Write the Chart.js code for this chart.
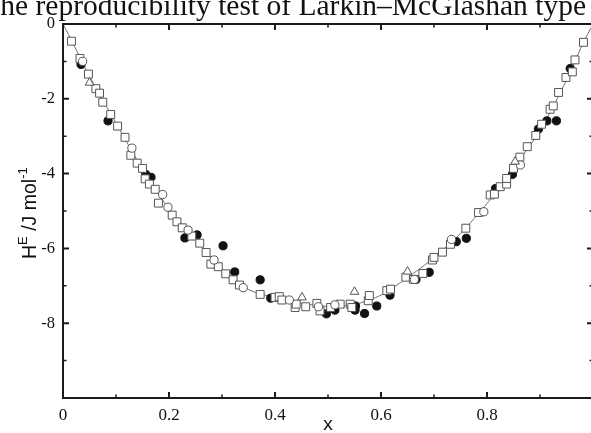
<!DOCTYPE html>
<html><head><meta charset="utf-8">
<script src="https://cdn.jsdelivr.net/npm/chart.js@4/dist/chart.umd.min.js"></script>
<style>
html,body{margin:0;padding:0;overflow:hidden;background:#fff;width:591px;height:433px}
#wrap{position:relative;width:600px;height:433px}
</style></head>
<body><div id="wrap"><canvas id="c" width="600" height="433"></canvas></div>
<script>
const titleText = "The reproducibility test of Larkin\u2013McGlashan type";
const xAxisTitle = "x";
const yLabelParts = [["H",0],["E",1],[" /J mol",0],["-1",1]];
const xTickValues = [0,0.2,0.4,0.6,0.8];
const yTickValues = [0,-2,-4,-6,-8];

const squaresX = [0.016,0.032,0.048,0.062,0.069,0.075,0.090,0.103,0.117,0.128,0.140,0.150,0.155,0.163,0.174,0.180,0.206,0.215,0.225,0.243,0.258,0.270,0.279,0.293,0.307,0.321,0.333,0.372,0.400,0.408,0.413,0.438,0.440,0.458,0.479,0.485,0.505,0.523,0.542,0.545,0.576,0.578,0.611,0.618,0.647,0.661,0.679,0.697,0.700,0.716,0.731,0.760,0.784,0.806,0.814,0.825,0.837,0.837,0.850,0.862,0.876,0.892,0.903,0.919,0.925,0.935,0.949,0.961,0.966,0.982];
const squaresY = [-0.46,-0.92,-1.34,-1.73,-1.85,-2.09,-2.42,-2.73,-3.03,-3.51,-3.72,-3.86,-4.14,-4.28,-4.42,-4.79,-5.11,-5.29,-5.45,-5.67,-5.86,-6.11,-6.42,-6.49,-6.68,-6.84,-6.98,-7.23,-7.31,-7.29,-7.38,-7.58,-7.49,-7.56,-7.47,-7.67,-7.58,-7.49,-7.49,-7.58,-7.40,-7.26,-7.13,-7.09,-6.77,-6.83,-6.67,-6.31,-6.24,-6.10,-5.89,-5.46,-5.04,-4.57,-4.55,-4.35,-4.28,-4.13,-3.86,-3.56,-3.28,-2.98,-2.68,-2.28,-2.19,-1.83,-1.43,-1.28,-0.96,-0.49];

const filledX = [0.034,0.085,0.156,0.166,0.230,0.253,0.302,0.324,0.372,0.392,0.497,0.513,0.552,0.551,0.569,0.592,0.617,0.666,0.691,0.742,0.761,0.816,0.848,0.897,0.913,0.931,0.957];
const filledY = [-1.08,-2.59,-4.02,-4.10,-5.72,-5.64,-5.93,-6.63,-6.84,-7.33,-7.75,-7.65,-7.54,-7.65,-7.74,-7.54,-7.25,-6.83,-6.64,-5.82,-5.73,-4.40,-4.02,-2.81,-2.59,-2.59,-1.19];

const openCircX = [0.037,0.130,0.188,0.198,0.236,0.285,0.340,0.427,0.482,0.513,0.663,0.733,0.794,0.863];
const openCircY = [-1.00,-3.32,-4.56,-4.90,-5.51,-6.31,-7.05,-7.38,-7.56,-7.51,-6.83,-5.76,-5.02,-3.77];

const triX = [0.050,0.451,0.550,0.650,0.853];
const triY = [-1.57,-7.31,-7.16,-6.62,-3.68];

const curveX = [0,0.02,0.05,0.1,0.15,0.2,0.25,0.3,0.35,0.4,0.45,0.5,0.55,0.6,0.65,0.7,0.75,0.8,0.85,0.9,0.95,0.98,1.0];
const curveY = [0,-0.55,-1.4,-2.65,-3.88,-4.95,-5.75,-6.55,-7.1,-7.32,-7.47,-7.55,-7.5,-7.25,-6.78,-6.25,-5.6,-4.8,-3.85,-2.85,-1.5,-0.55,0];

const pts = (xs, ys) => xs.map((v, i) => ({x: v, y: ys[i]}));

const framePlugin = {
  id: 'frame',
  afterDatasetsDraw(chart) {
    const {ctx, chartArea: a, scales: {x, y}} = chart;
    ctx.save();
    ctx.strokeStyle = '#1a1a1a';
    ctx.lineWidth = 2;
    ctx.strokeRect(a.left, a.top, a.right - a.left, a.bottom - a.top);
    for (let i = 0; i <= 10; i++) {
      const px = x.getPixelForValue(i / 10);
      const major = i % 2 === 0;
      const L = major ? 6 : 3.5;
      ctx.lineWidth = major ? 2 : 1.5;
      ctx.beginPath();
      ctx.moveTo(px, a.bottom); ctx.lineTo(px, a.bottom - L);
      ctx.moveTo(px, a.top); ctx.lineTo(px, a.top + L);
      ctx.stroke();
    }
    for (let i = 0; i <= 10; i++) {
      const py = y.getPixelForValue(-i);
      const major = i % 2 === 0;
      const L = major ? 6 : 3.5;
      ctx.lineWidth = major ? 2 : 1.5;
      ctx.beginPath();
      ctx.moveTo(a.left, py); ctx.lineTo(a.left + L, py);
      ctx.moveTo(a.right, py); ctx.lineTo(a.right - L, py);
      ctx.stroke();
    }
    ctx.restore();
  },
  afterDraw(chart) {
    const ctx = chart.ctx;
    ctx.save();
    ctx.fillStyle = '#111';
    ctx.font = '29.5px "Liberation Serif"';
    ctx.textAlign = 'right';
    ctx.textBaseline = 'alphabetic';
    ctx.fillText(titleText, 586, 15);
    // y axis label
    ctx.translate(36, 259);
    ctx.rotate(-Math.PI / 2);
    ctx.textAlign = 'left';
    let cx = 0;
    for (const [t, sup] of yLabelParts) {
      ctx.font = sup ? '13px "Liberation Sans"' : '19.5px "Liberation Sans"';
      ctx.fillText(t, cx, sup ? -9 : 0);
      cx += ctx.measureText(t).width;
    }
    ctx.restore();
  }
};

const serif = '"Liberation Serif", "Times New Roman", serif';

new Chart(document.getElementById('c'), {
  type: 'scatter',
  data: {
    datasets: [
      {label: 'fit', data: pts(curveX, curveY), showLine: true, borderColor: '#707070', borderWidth: 1, pointRadius: 0, tension: 0.25, order: 5},
      {label: 'filled', data: pts(filledX, filledY), pointStyle: 'circle', pointRadius: 4.1, backgroundColor: '#111', borderColor: '#111', borderWidth: 1, order: 4},
      {label: 'squares', data: pts(squaresX, squaresY), pointStyle: 'rect', pointRadius: 5.6, backgroundColor: '#fff', borderColor: '#555', borderWidth: 1, order: 3},
      {label: 'open circles', data: pts(openCircX, openCircY), pointStyle: 'circle', pointRadius: 4.1, backgroundColor: '#fff', borderColor: '#555', borderWidth: 1, order: 2},
      {label: 'triangles', data: pts(triX, triY), pointStyle: 'triangle', pointRadius: 5, backgroundColor: '#fff', borderColor: '#555', borderWidth: 1, order: 1}
    ]
  },
  options: {
    responsive: false,
    animation: false,
    devicePixelRatio: 1,
    layout: {padding: {top: 24, right: 7, left: 0, bottom: 0}},
    plugins: {legend: {display: false}, tooltip: {enabled: false}, title: {display: false}},
    scales: {
      x: {
        type: 'linear', min: 0, max: 1,
        grid: {display: false, drawTicks: false},
        border: {display: false},
        afterBuildTicks(s) { s.ticks = xTickValues.map(v => ({value: v})); },
        ticks: {font: {family: serif, size: 17}, color: '#111', padding: 7, maxRotation: 0,
          callback: v => v === 0 ? '0' : v.toFixed(1)},
        title: {display: true, text: xAxisTitle, font: {family: '"Liberation Sans"', size: 19}, color: '#111', padding: {top: 0, bottom: -3}},
        afterFit(s) { s.height = 35; }
      },
      y: {
        type: 'linear', min: -10, max: 0,
        grid: {display: false, drawTicks: false},
        border: {display: false},
        afterBuildTicks(s) { s.ticks = yTickValues.map(v => ({value: v})); },
        ticks: {font: {family: serif, size: 16.5}, color: '#111', padding: 8,
          callback: v => String(v)},
        afterFit(s) { s.width = 63; }
      }
    }
  },
  plugins: [framePlugin]
});
</script>
</body></html>
